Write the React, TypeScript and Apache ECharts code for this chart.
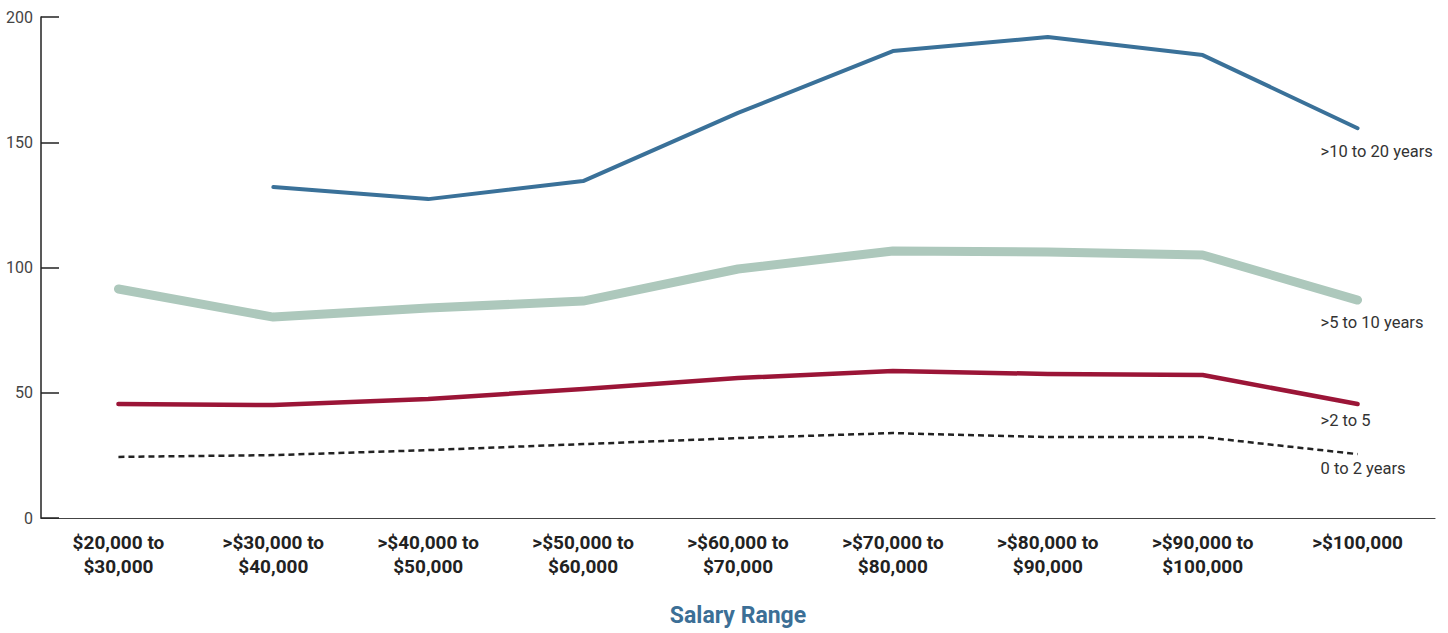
import React, { useEffect, useRef } from "react";
import * as echarts from "echarts";

const categories = [
  "$20,000 to\n$30,000",
  ">$30,000 to\n$40,000",
  ">$40,000 to\n$50,000",
  ">$50,000 to\n$60,000",
  ">$60,000 to\n$70,000",
  ">$70,000 to\n$80,000",
  ">$80,000 to\n$90,000",
  ">$90,000 to\n$100,000",
  ">$100,000",
];

const years10to20: (number | null)[] = [null, 132.1, 127.3, 134.5, 161.7, 186.4, 192, 184.8, 155.6];
const years5to10 = [91.4, 80.2, 83.8, 86.6, 99.4, 106.6, 106.2, 105, 87];
const years2to5 = [45.5, 45.1, 47.5, 51.5, 55.9, 58.7, 57.5, 57.1, 45.5];
const years0to2 = [24.4, 25.1, 27.1, 29.5, 31.9, 33.9, 32.3, 32.3, 25.5];

const seriesNames = [">10 to 20 years", ">5 to 10 years", ">2 to 5", "0 to 2 years"];
const yTicks = [0, 50, 100, 150, 200];

const FONT = "Roboto, 'Liberation Sans', sans-serif";

export default function App() {
  const ref = useRef<HTMLDivElement>(null);
  useEffect(() => {
    document.body.style.margin = "0";
    const chart = echarts.init(ref.current!, undefined, { renderer: "svg" });
    const endLabel = (dy: number) => ({
      show: true,
      formatter: "{a}",
      distance: 0,
      align: "left",
      verticalAlign: "middle",
      offset: [-37, dy],
      fontFamily: FONT,
      fontSize: 16.5,
      color: "#333",
    });
    chart.setOption({
      animation: false,
      grid: { left: 41, right: 13, top: 17, bottom: 115, containLabel: false, outerBoundsMode: "none" },
      xAxis: {
        type: "category",
        data: categories,
        boundaryGap: true,
        axisLine: { show: true, lineStyle: { color: "#444", width: 1.2 } },
        axisTick: { show: false },
        axisLabel: {
          margin: 12,
          interval: 0,
          fontFamily: FONT,
          fontSize: 19,
          fontWeight: "bold",
          color: "#222",
          lineHeight: 24,
        },
        name: "Salary Range",
        nameLocation: "middle",
        nameGap: 86,
        nameTextStyle: {
          fontFamily: FONT,
          fontSize: 23,
          fontWeight: "bold",
          color: "#3c6f96",
        },
      },
      yAxis: {
        type: "value",
        min: yTicks[0],
        max: yTicks[yTicks.length - 1],
        interval: 50,
        axisLine: { show: true, lineStyle: { color: "#222", width: 1.5 } },
        axisTick: { show: true, inside: true, length: 18, lineStyle: { color: "#222", width: 1.5 } },
        splitLine: { show: false },
        axisLabel: {
          margin: 8,
          fontFamily: FONT,
          fontSize: 16,
          color: "#444",
        },
      },
      series: [
        {
          name: seriesNames[0],
          type: "line",
          data: years10to20,
          showSymbol: false,
          connectNulls: false,
          lineStyle: { color: "#3a7199", width: 4, cap: "round", join: "round" },
          itemStyle: { color: "#3a7199" },
          endLabel: endLabel(23),
          z: 4,
        },
        {
          name: seriesNames[1],
          type: "line",
          data: years5to10,
          showSymbol: false,
          lineStyle: { color: "#adc8bc", width: 9, cap: "round", join: "round" },
          itemStyle: { color: "#adc8bc" },
          endLabel: endLabel(22),
          z: 3,
        },
        {
          name: seriesNames[2],
          type: "line",
          data: years2to5,
          showSymbol: false,
          lineStyle: { color: "#9b1537", width: 4.5, cap: "round", join: "round" },
          itemStyle: { color: "#9b1537" },
          endLabel: endLabel(16),
          z: 3,
        },
        {
          name: seriesNames[3],
          type: "line",
          data: years0to2,
          showSymbol: false,
          lineStyle: { color: "#222", width: 2.5, type: [6, 4] },
          itemStyle: { color: "#222" },
          endLabel: endLabel(14),
          z: 3,
        },
      ],
    });
    return () => chart.dispose();
  }, []);
  return <div ref={ref} style={{ width: 1448, height: 633 }} />;
}
